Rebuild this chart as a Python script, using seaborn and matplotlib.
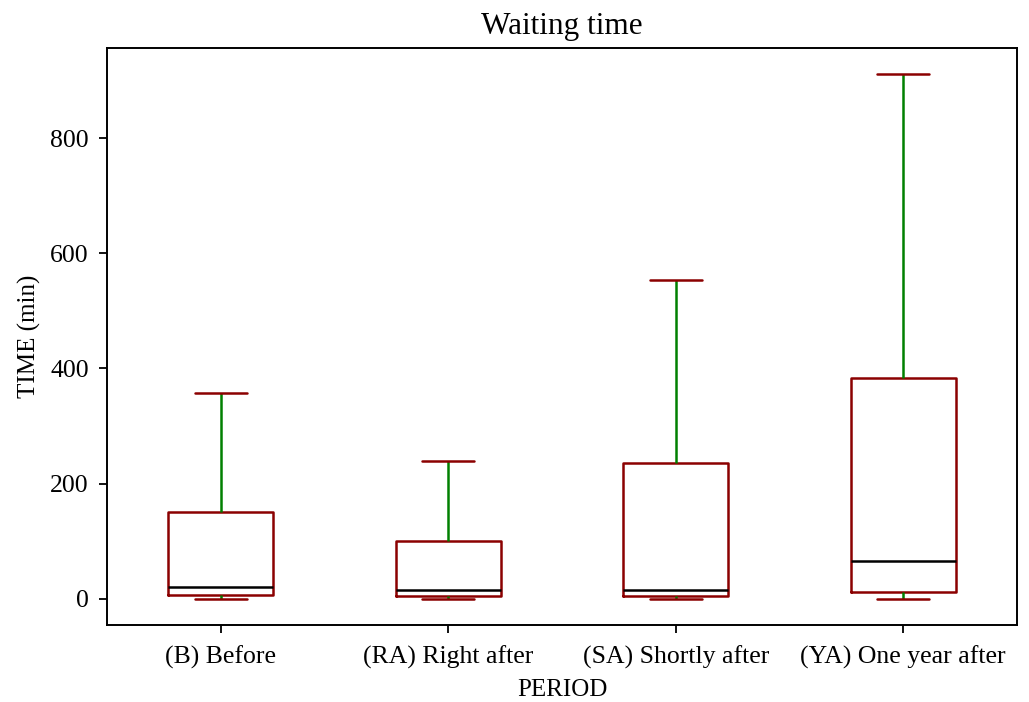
import matplotlib
matplotlib.use("Agg")
import matplotlib.pyplot as plt
import numpy as np
import pandas as pd
import seaborn as sns

# Waiting-time summary per period: minimum, Q1, median, Q3, maximum (minutes)
periods = ["(B) Before", "(RA) Right after", "(SA) Shortly after", "(YA) One year after"]
t_min = [0, 0, 0, 0]
t_q1 = [7, 5, 5, 12]
t_median = [21, 16, 15, 66]
t_q3 = [151, 101, 235, 384]
t_max = [358, 240, 553, 911]

rows = []
for p, a, b, c, d, e in zip(periods, t_min, t_q1, t_median, t_q3, t_max):
    for v in (a, b, c, d, e):
        rows.append({"PERIOD": p, "TIME (min)": v})
df = pd.DataFrame(rows)

sns.set_style("ticks")
plt.rcParams["font.family"] = ["Liberation Serif", "DejaVu Serif"]
plt.rcParams["text.color"] = "black"
plt.rcParams["axes.labelcolor"] = "black"

fig = plt.figure(figsize=(10.29, 7.02), dpi=100)
ax = fig.add_axes([107 / 1029, 1 - 625 / 702, (1017 - 107) / 1029, (625 - 48) / 702])

red = "#8b0000"
green = "#008000"
sns.boxplot(
    data=df, x="PERIOD", y="TIME (min)", order=periods, ax=ax,
    width=0.46, whis=(0, 100), showfliers=False, fill=False, color=red,
    boxprops=dict(color=red, linewidth=1.8),
    whiskerprops=dict(color=green, linewidth=1.8),
    capprops=dict(color=red, linewidth=1.8),
    medianprops=dict(color="black", linewidth=1.8),
)

ax.set_xlim(-0.5, 3.5)
ax.set_yticks([0, 200, 400, 600, 800])
ax.tick_params(axis="both", labelsize=18.5, length=6, width=1.3, pad=7,
               direction="out", colors="black", labelcolor="black")
ax.tick_params(axis="x", pad=9)
for s in ax.spines.values():
    s.set_linewidth(1.4)
    s.set_color("black")
ax.set_title("Waiting time", fontsize=22.5, pad=10)
ax.set_xlabel("PERIOD", fontsize=18, labelpad=7)
ax.set_ylabel("TIME (min)", fontsize=18, labelpad=7)

fig.savefig("out.png", dpi=100)
